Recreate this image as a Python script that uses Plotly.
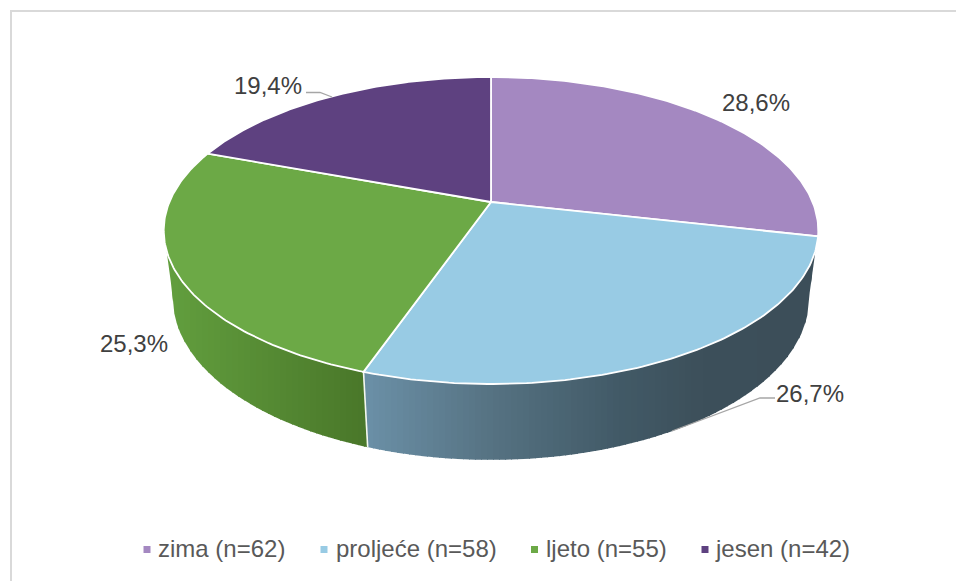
import numpy as np
import plotly.graph_objects as go

categories = ["zima (n=62)", "proljeće (n=58)", "ljeto (n=55)", "jesen (n=42)"]
counts = [62, 58, 55, 42]
pct_labels = ["28,6%", "26,7%", "25,3%", "19,4%"]
slice_colors = ["#A488C1", "#98CBE4", "#6CA946", "#5E4180"]

# label centres (px), leader polylines (px)
label_x = [756, 810, 134, 268]
label_y = [104.5, 395.5, 345.5, 88]
leader_x = [[306, 320, 332], [775, 760, 672]]
leader_y = [[92.5, 92.5, 97], [398, 398, 431]]

# legend layout (px)
legend_marker_x = [147, 324, 534.5, 705]
legend_text_x = [158, 336, 546, 716]
legend_y = 549.5
legend_text_y = 551

# wall shading: (pixel x, rgb) stops
green_stops = [(172, (98, 158, 62)), (363, (74, 120, 42))]
blue_stops = [(367, (107, 144, 167)), (490, (86, 115, 131)), (620, (66, 90, 103)), (700, (61, 80, 91)), (810, (60, 78, 89))]

CX, CY = 491, 202
A, B, K = 321.6, 148.2, 0.1857
E, DROP = 0.028, 69


def top(t):
    t = np.radians(t)
    u, v = np.sin(t), np.cos(t)
    w = 1 + K * v
    return CX + A * u / w, CY - B * v / w


def bottom(t):
    t = np.radians(t)
    u, v = np.sin(t), np.cos(t)
    w = 1 + K * v + E
    return CX + A * u / w, CY + (DROP - B * v) / w


def shade(x, stops):
    xs = [s[0] for s in stops]
    return "rgb(%d,%d,%d)" % tuple(np.interp(x, xs, [s[1][i] for s in stops]) for i in range(3))


def poly(x, y, fill, line=None, width=0):
    return go.Scatter(x=list(x), y=list(y), mode="lines", fill="toself", fillcolor=fill,
                      line=dict(color=line or fill, width=width), hoverinfo="skip", showlegend=False)


fig = go.Figure()
total = sum(counts)
edges = np.concatenate([[0], np.cumsum(counts)]) / total * 360

# outline of the visible wall, as upper and lower curves over screen x
ts = np.linspace(252, 108, 300)
rim_x, rim_y = top(ts)
tb = np.linspace(260, 100, 300)
low_x, low_y = bottom(tb)
p0x, p0y = top(252.0)
p1x, p1y = top(108.0)
low_x = np.r_[p0x, low_x, p1x]
low_y = np.r_[p0y, low_y, p1y]
sx0, sy0 = top(edges[2])
sx1, sy1 = bottom(edges[2])


def strip(x0, x1, stops, color_x):
    xs = np.linspace(x0, x1, 4)
    yt = np.interp(xs, rim_x, rim_y)
    yb = np.interp(xs[::-1], low_x, low_y)
    fig.add_trace(poly(np.r_[xs, xs[::-1], xs[0]], np.r_[yt, yb, yt[0]], shade(color_x, stops)))


# strips overlap their right neighbour, which paints over the overlap
step = 6
grid = np.arange(np.floor(p0x), sx1, step)
for a in grid:
    strip(max(a, p0x), min(a + step + 1, sx1), green_stops, a + step / 2)

# first sliver of the blue wall, bounded by the seam
wx = np.linspace(sx0, sx1, 5)
fig.add_trace(poly(np.r_[sx0, wx[1:], sx1, wx[0]], np.r_[sy0, np.interp(wx[1:], rim_x, rim_y), sy1, sy0],
                   shade(sx1, blue_stops)))
grid = np.arange(np.floor(sx1), p1x, step)
for a in grid:
    strip(max(a, sx1 - 0.5), min(a + step + 1, p1x), blue_stops, a + step / 2)

# white seam between the two visible wall faces
fig.add_trace(go.Scatter(x=[sx0, sx1], y=[sy0, sy1], mode="lines", line=dict(color="#F4F8F0", width=1.6),
                         hoverinfo="skip", showlegend=False))

# top face
for i, c in enumerate(slice_colors):
    s = np.linspace(edges[i], edges[i + 1], 120)
    x, y = top(s)
    fig.add_trace(poly(np.r_[CX, x, CX], np.r_[CY, y, CY], c, "white", 1.8))

# leader lines
for lx, ly in zip(leader_x, leader_y):
    fig.add_trace(go.Scatter(x=lx, y=ly, mode="lines", line=dict(color="#A6A6A6", width=1.3),
                             hoverinfo="skip", showlegend=False))

# percentage labels
fig.add_trace(go.Scatter(x=label_x, y=label_y, mode="text", text=pct_labels, textposition="middle center",
                         textfont=dict(family="Liberation Sans", size=24, color="#404040"),
                         hoverinfo="skip", showlegend=False))

# legend row
for name, c, mx, tx in zip(categories, slice_colors, legend_marker_x, legend_text_x):
    fig.add_trace(go.Scatter(x=[mx], y=[legend_y], mode="markers", name=name,
                             marker=dict(symbol="square", size=7, color=c), showlegend=False, hoverinfo="skip"))
    fig.add_trace(go.Scatter(x=[tx], y=[legend_text_y], mode="text", text=[name], textposition="middle right",
                             textfont=dict(family="Liberation Sans", size=24, color="#595959"),
                             showlegend=False, hoverinfo="skip"))

fig.update_layout(
    width=956, height=582, margin=dict(l=0, r=0, t=0, b=0),
    paper_bgcolor="white", plot_bgcolor="white",
    xaxis=dict(range=[0, 956], visible=False, fixedrange=True),
    yaxis=dict(range=[582, 0], visible=False, fixedrange=True),
    shapes=[
        dict(type="line", xref="x", yref="y", x0=10, y0=11, x1=956, y1=11, line=dict(color="#D9D9D9", width=2), layer="below"),
        dict(type="line", xref="x", yref="y", x0=11, y0=10, x1=11, y1=581, line=dict(color="#D9D9D9", width=2), layer="below"),
    ],
)
fig.write_html("out.html", config={"displayModeBar": False},
               post_script="document.body.style.margin='0';document.documentElement.style.overflow='hidden';")
